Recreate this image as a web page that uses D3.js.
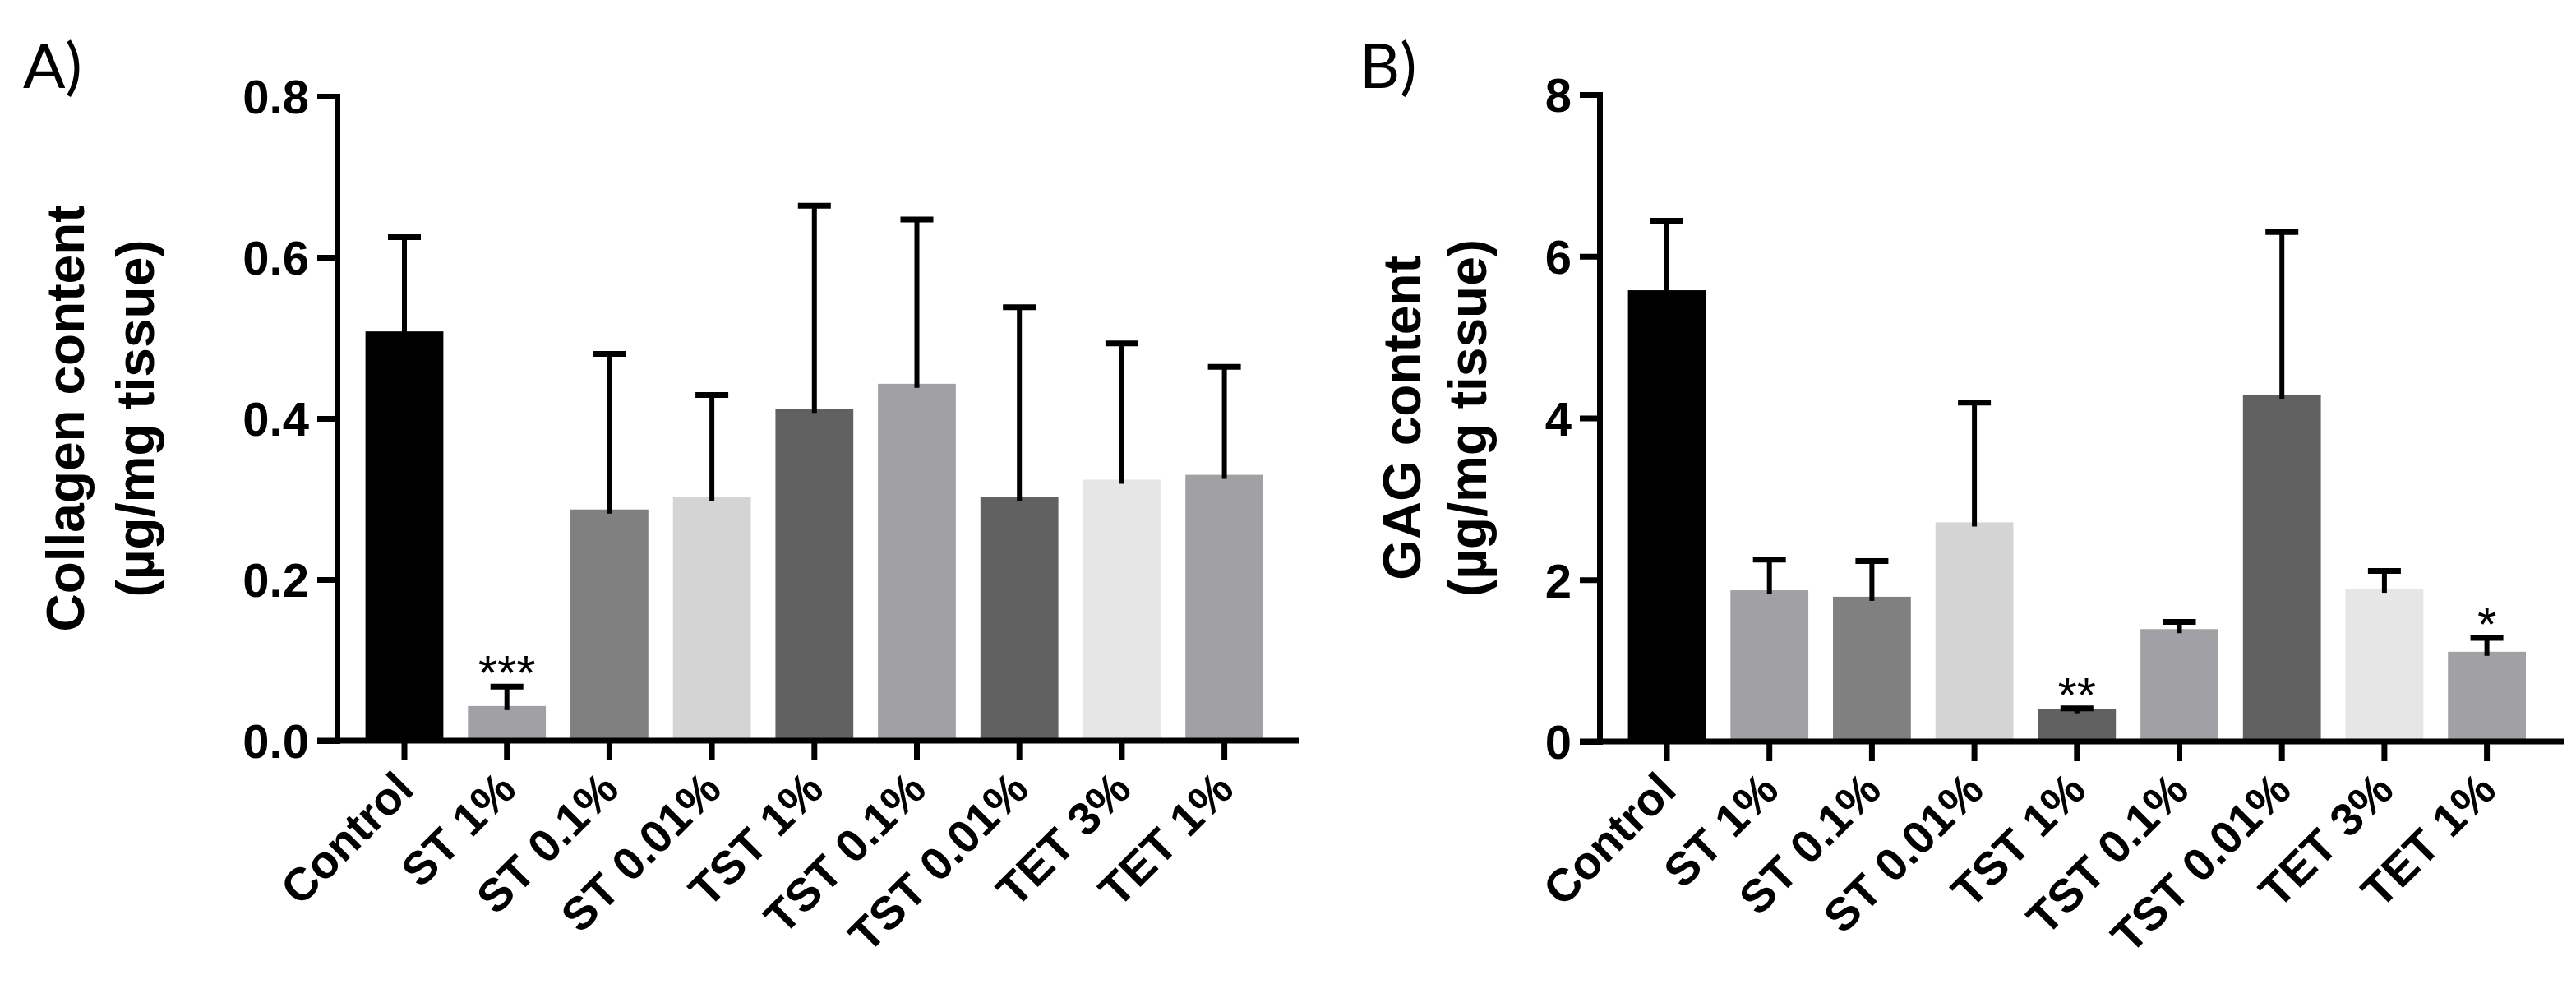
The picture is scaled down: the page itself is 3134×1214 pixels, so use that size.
<!DOCTYPE html>
<html>
<head>
<meta charset="utf-8">
<title>Collagen and GAG content</title>
<script src="https://d3js.org/d3.v7.min.js"></script>
<style>
  body { margin: 0; background: #fff; }
  text { font-family: "Liberation Sans", Arial, sans-serif; fill: #000; }
</style>
</head>
<body>
<script>
// groups on the x axis (same for both panels)
const categories = ["Control", "ST 1%", "ST 0.1%", "ST 0.01%", "TST 1%", "TST 0.1%", "TST 0.01%", "TET 3%", "TET 1%"];
const barColors = ["#000000", "#a1a1a5", "#808080", "#d4d4d4", "#616161", "#a1a1a5", "#616161", "#e6e6e6", "#a1a1a5"];

// panel A: collagen, mean and top of error bar
const collagenMean  = [0.508, 0.043, 0.287, 0.302, 0.412, 0.443, 0.302, 0.324, 0.330];
const collagenUpper = [0.625, 0.067, 0.480, 0.429, 0.664, 0.647, 0.538, 0.493, 0.464];
const collagenStars = ["", "***", "", "", "", "", "", "", ""];
const collagenTicks = [0, 0.2, 0.4, 0.6, 0.8];

// panel B: GAG
const gagMean  = [5.58, 1.87, 1.79, 2.71, 0.40, 1.39, 4.29, 1.89, 1.11];
const gagUpper = [6.44, 2.25, 2.23, 4.19, 0.41, 1.48, 6.30, 2.11, 1.28];
const gagStars = ["", "", "", "", "**", "", "", "", "*"];
const gagTicks = [0, 2, 4, 6, 8];

const W = 3134, H = 1214;
const svg = d3.select("body").append("svg")
    .attr("width", W)
    .attr("height", H);

const panels = [
    { letter: "A)", letterX: 28, axisX: 410, axisEnd: 1580, y0: 901, yTop: 117,
      mean: collagenMean, upper: collagenUpper, stars: collagenStars, ticks: collagenTicks,
      fmt: d3.format(".1f"), title: ["Collagen content", "(\u00b5g/mg tissue)"], titleX: 102, titleGap: 85 },
    { letter: "B)", letterX: 1654, axisX: 1946, axisEnd: 3120, y0: 902, yTop: 115,
      mean: gagMean, upper: gagUpper, stars: gagStars, ticks: gagTicks,
      fmt: d3.format("d"), title: ["GAG content", "(\u00b5g/mg tissue)"], titleX: 1728, titleGap: 80 }
];

const step = 124.7;

panels.forEach(p => {
    const g = svg.append("g");

    const y = d3.scaleLinear()
        .domain([p.ticks[0], p.ticks[p.ticks.length - 1]])
        .range([p.y0, p.yTop]);

    const start = p.axisX + 82 - step / 2;
    const x = d3.scaleBand()
        .domain(categories)
        .range([start, start + step * categories.length])
        .paddingInner(0.24)
        .paddingOuter(0.12);

    // bars
    g.selectAll(".bar")
        .data(categories)
        .join("rect")
        .attr("x", d => x(d))
        .attr("width", x.bandwidth())
        .attr("y", (d, i) => y(p.mean[i]))
        .attr("height", (d, i) => y(0) - y(p.mean[i]))
        .attr("fill", (d, i) => barColors[i]);

    // error bars (upper only)
    const cx = d => x(d) + x.bandwidth() / 2;
    g.selectAll(".err")
        .data(categories)
        .join("line")
        .attr("x1", cx).attr("x2", cx)
        .attr("y1", (d, i) => Math.min(y(p.mean[i]) + 5, y(0)))
        .attr("y2", (d, i) => y(p.upper[i]))
        .attr("stroke", "#000")
        .attr("stroke-width", 6);
    g.selectAll(".cap")
        .data(categories)
        .join("line")
        .attr("x1", d => cx(d) - 20).attr("x2", d => cx(d) + 20)
        .attr("y1", (d, i) => y(p.upper[i]))
        .attr("y2", (d, i) => y(p.upper[i]))
        .attr("stroke", "#000")
        .attr("stroke-width", 7);

    // significance stars
    g.selectAll(".star")
        .data(categories)
        .join("text")
        .attr("x", cx)
        .attr("y", (d, i) => y(p.upper[i]) + 4)
        .attr("text-anchor", "middle")
        .attr("font-size", 60)
        .text((d, i) => p.stars[i]);

    // y axis
    const yAxis = g.append("g")
        .attr("transform", `translate(${p.axisX},0)`)
        .call(d3.axisLeft(y).tickValues(p.ticks).tickFormat(p.fmt)
            .tickSize(24).tickSizeOuter(24).tickPadding(10));
    yAxis.select(".domain").attr("stroke-width", 7).attr("fill", "none");
    yAxis.selectAll(".tick line").attr("stroke-width", 7);
    yAxis.selectAll(".tick text")
        .attr("font-family", "Liberation Sans, Arial, sans-serif")
        .attr("font-size", 58)
        .attr("font-weight", "bold")
        .attr("dy", "0.36em");

    // x axis
    const xAxis = g.append("g")
        .attr("transform", `translate(0,${p.y0})`)
        .call(d3.axisBottom(x).tickSize(24).tickSizeOuter(0));
    xAxis.select(".domain").remove();
    xAxis.selectAll(".tick line").attr("stroke-width", 7);
    xAxis.selectAll(".tick text")
        .attr("font-family", "Liberation Sans, Arial, sans-serif")
        .attr("font-size", 56)
        .attr("font-weight", "bold")
        .attr("text-anchor", "end")
        .attr("x", 0).attr("y", 0).attr("dy", 0)
        .attr("transform", "translate(14,62) rotate(-45)");
    g.append("line")
        .attr("x1", p.axisX - 24).attr("x2", p.axisEnd)
        .attr("y1", p.y0).attr("y2", p.y0)
        .attr("stroke", "#000")
        .attr("stroke-width", 7);

    // y title
    const t = g.append("g")
        .attr("transform", `translate(${p.titleX},${(p.y0 + p.yTop) / 2}) rotate(-90)`);
    t.append("text")
        .attr("text-anchor", "middle")
        .attr("font-size", 64)
        .attr("font-weight", "bold")
        .text(p.title[0]);
    t.append("text")
        .attr("y", p.titleGap)
        .attr("text-anchor", "middle")
        .attr("font-size", 64)
        .attr("font-weight", "bold")
        .text(p.title[1]);

    // panel letter
    g.append("text")
        .attr("x", p.letterX)
        .attr("y", 107)
        .style("font-family", "Lato, sans-serif")
        .attr("font-size", 76)
        .text(p.letter);
});
</script>
</body>
</html>
